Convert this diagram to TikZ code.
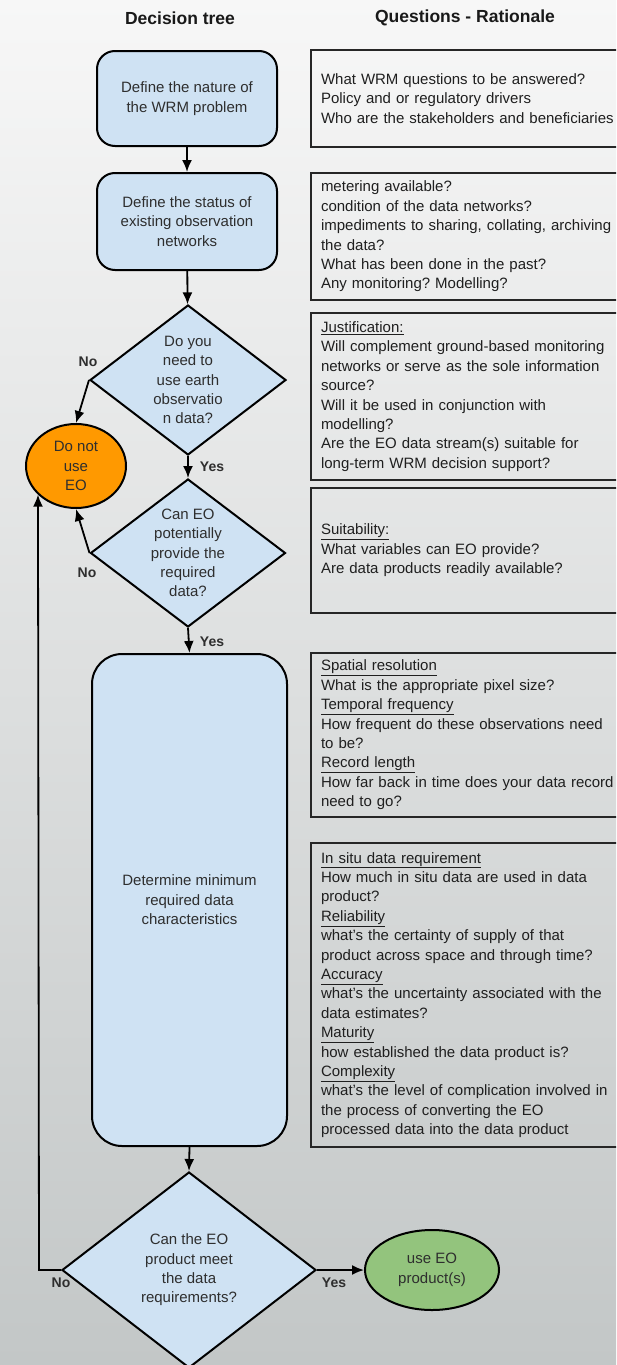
\documentclass[tikz,border=0pt]{standalone}
\usepackage{xcolor}
\usepackage{fontspec}
\setsansfont{Liberation Sans}
\usepackage{tikz}
\usetikzlibrary{arrows.meta}
\usetikzlibrary{shapes.geometric}
\tikzset{>={Latex[length=12pt,width=10pt]}}
\definecolor{boxblue}{HTML}{CFE2F3}
\definecolor{noorange}{HTML}{FF9900}
\definecolor{yesgreen}{HTML}{93C47D}
\definecolor{txtgray}{HTML}{2E2E2E}
\definecolor{bgtop}{HTML}{F7F7F7}
\definecolor{bgbot}{HTML}{C3C7C7}
\frenchspacing

\begin{document}
\begin{tikzpicture}[x=1pt,y=-1pt,font=\sffamily\fontsize{15pt}{19.4pt}\selectfont,
	proc/.style={draw,line width=2pt,fill=boxblue,rounded corners=18pt,align=center,text=txtgray},
	decision/.style={draw,line width=2pt,fill=boxblue,diamond,inner sep=0pt},
	endpoint/.style={draw,line width=2pt,ellipse,inner sep=0pt,align=center,text=txtgray},
	qbox/.style={draw,line width=2pt,draw=black!85,text width=300pt,inner xsep=10pt,align=left,anchor=west,text=black!88},
	head/.style={font=\sffamily\bfseries\fontsize{17.5pt}{20pt}\selectfont,text=black!90},
	yesno/.style={font=\sffamily\bfseries\fontsize{14pt}{16pt}\selectfont,text=txtgray},
	conn/.style={->,line width=1.8pt}]
	\useasboundingbox (0,0) rectangle (616,1365);
	\clip (0,0) rectangle (616,1365);
	\shade[top color=bgtop,bottom color=bgbot] (0,0) rectangle (616,1365);
	% column heads
	\node[head] (treehead) at (180,18) {Decision tree};
	\node[head] (whyhead) at (465,18) {Questions - Rationale};
	% decision tree
	\node[proc,minimum width=180pt,minimum height=95pt] (nature) at (187,98.5) {Define the nature of\\the WRM problem};
	\node[proc,minimum width=180pt,minimum height=97pt] (status) at (187,221.5) {Define the status of\\existing observation\\networks};
	\node[decision,minimum width=196pt,minimum height=150pt,label={[align=center,text=txtgray]center:Do you\\need to\\use earth\\observatio\\n data?}] (needeo) at (188,380) {};
	\node[decision,minimum width=195pt,minimum height=148pt,label={[align=center,text=txtgray]center:Can EO\\potentially\\provide the\\required\\data?}] (canprov) at (188,553) {};
	\node[proc,rounded corners=30pt,minimum width=195pt,minimum height=492pt] (charac) at (189.5,900) {Determine minimum\\required data\\characteristics};
	\node[decision,minimum width=254pt,minimum height=196pt,label={[align=center,text=txtgray]center:Can the EO\\product meet\\the data\\requirements?}] (meet) at (189,1270) {};
	\node[endpoint,fill=noorange,minimum width=100pt,minimum height=84pt] (noeo) at (76,466) {Do not\\use\\EO};
	\node[endpoint,fill=yesgreen,minimum width=134pt,minimum height=80pt] (useeo) at (432,1270) {use EO\\product(s)};
	% questions
	\node[qbox,minimum height=97pt] (whatq) at (310,98.5) {What WRM questions to be answered?\\Policy and or regulatory drivers\\Who are the stakeholders and beneficiaries};
	\node[qbox,minimum height=127pt] (statusq) at (310,236.5) {metering available?\\condition of the data networks?\\impediments to sharing, collating, archiving\\the data?\\What has been done in the past?\\Any monitoring? Modelling?};
	\node[qbox,minimum height=167pt] (justq) at (310,396.5) {\underline{Justification:}\\Will complement ground-based monitoring\\networks or serve as the sole information\\source?\\Will it be used in conjunction with\\modelling?\\Are the EO data stream(s) suitable for\\long-term WRM decision support?};
	\node[qbox,minimum height=125pt] (suitq) at (310,550.5) {\underline{Suitability:}\\What variables can EO provide?\\Are data products readily available?};
	\node[qbox,minimum height=164pt] (resq) at (310,735) {\underline{Spatial resolution}\\What is the appropriate pixel size?\\\underline{Temporal frequency}\\How frequent do these observations need\\to be?\\\underline{Record length}\\How far back in time does your data record\\need to go?};
	\node[qbox,minimum height=304pt] (qualq) at (310,995) {\underline{In situ data requirement}\\How much in situ data are used in data\\product?\\\underline{Reliability}\\what's the certainty of supply of that\\product across space and through time?\\\underline{Accuracy}\\what's the uncertainty associated with the\\data estimates?\\\underline{Maturity}\\how established the data product is?\\\underline{Complexity}\\what's the level of complication involved in\\the process of converting the EO\\processed data into the data product};
	% connectors
	\coordinate (backturn) at (39,1270);
	\draw[conn] (nature) -- (status);
	\draw[conn] (status) -- (needeo);
	\draw[conn] (needeo.west) -- (noeo.north);
	\draw[conn] (needeo.south) -- (canprov.north);
	\draw[conn] (canprov.west) -- (noeo.south);
	\draw[conn] (canprov.south) -- (charac.north);
	\draw[conn] (charac.south) -- (meet.north);
	\draw[conn] (meet.east) -- (useeo.west);
	\draw[conn] (meet.west) -- (backturn) -- (noeo.217);
	% answers
	\node[yesno] (no1) at (88,362) {No};
	\node[yesno] (yes1) at (212,467) {Yes};
	\node[yesno] (no2) at (87,573) {No};
	\node[yesno] (yes2) at (212,642) {Yes};
	\node[yesno] (no3) at (61,1283) {No};
	\node[yesno] (yes3) at (334,1283) {Yes};
\end{tikzpicture}
\end{document}
